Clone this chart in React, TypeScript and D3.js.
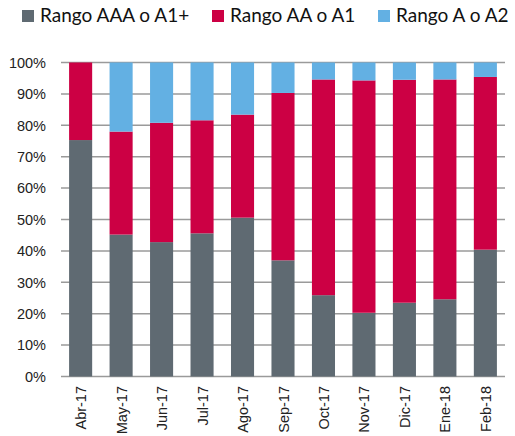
import * as d3 from 'd3';
import React, { useRef, useEffect } from 'react';

const months = ['Abr-17', 'May-17', 'Jun-17', 'Jul-17', 'Ago-17', 'Sep-17', 'Oct-17', 'Nov-17', 'Dic-17', 'Ene-18', 'Feb-18'];
const seriesNames = ['Rango AAA o A1+', 'Rango AA o A1', 'Rango A o A2'];
const aaa = [75.3, 45.2, 42.8, 45.6, 50.6, 37.0, 25.9, 20.3, 23.5, 24.6, 40.4];
const aa = [24.7, 32.8, 38.0, 36.0, 32.8, 53.3, 68.7, 74.0, 71.0, 70.0, 55.0];
const a = [0.0, 22.0, 19.2, 18.4, 16.6, 9.7, 5.4, 5.7, 5.5, 5.4, 4.6];
const yTicks = [0, 10, 20, 30, 40, 50, 60, 70, 80, 90, 100];
const colors = ['#5f6a72', '#cc0044', '#63b0e3'];

const width = 515;
const height = 436;
const axisFont = "'Liberation Sans', Arial, Helvetica, sans-serif";

const App = () => {
  const ref = useRef<SVGSVGElement>(null);

  useEffect(() => {
    const svg = d3.select(ref.current);
    svg.selectAll('*').remove();

    const x = d3.scaleBand().domain(months).range([61, 505]).paddingInner(0.43).paddingOuter(0.2);
    const y = d3.scaleLinear().domain([0, 100]).range([376.5, 62.5]);

    const rows = months.map((m, i) => ({ month: m, s0: aaa[i], s1: aa[i], s2: a[i] }));
    const stack = d3.stack<any>().keys(['s0', 's1', 's2']);
    const layers = stack(rows);

    // grid
    svg.append('g')
      .selectAll('line')
      .data(yTicks)
      .enter()
      .append('line')
      .attr('x1', 61)
      .attr('x2', 505)
      .attr('y1', d => y(d))
      .attr('y2', d => y(d))
      .attr('stroke', '#9a9a9a')
      .attr('stroke-width', 1.5);

    svg.append('g')
      .selectAll('text')
      .data(yTicks)
      .enter()
      .append('text')
      .attr('x', 46)
      .attr('y', d => y(d))
      .attr('dy', '0.36em')
      .attr('text-anchor', 'end')
      .style('font-family', axisFont)
      .style('font-size', '14.5px')
      .style('fill', '#222')
      .text(d => `${d}%`);

    layers.forEach((layer, k) => {
      svg.append('g')
        .selectAll('rect')
        .data(layer)
        .enter()
        .append('rect')
        .attr('x', (d: any) => x(d.data.month)!)
        .attr('width', x.bandwidth())
        .attr('y', d => y(d[1]))
        .attr('height', d => y(d[0]) - y(d[1]))
        .attr('fill', colors[k]);
    });

    // x labels
    svg.append('g')
      .selectAll('text')
      .data(months)
      .enter()
      .append('text')
      .attr('transform', d => `translate(${x(d)! + x.bandwidth() / 2 + 5.5},386) rotate(-90)`)
      .attr('text-anchor', 'end')
      .style('font-family', axisFont)
      .style('font-size', '14.5px')
      .style('fill', '#222')
      .text(d => d);

    // legend
    const legendX = [22, 212, 378];
    const legend = svg.append('g')
      .selectAll('g')
      .data(seriesNames)
      .enter()
      .append('g')
      .attr('transform', (_, i) => `translate(${legendX[i]},0)`);
    legend.append('rect')
      .attr('x', 0)
      .attr('y', 10)
      .attr('width', 12)
      .attr('height', 12)
      .attr('fill', (_, i) => colors[i]);
    legend.append('text')
      .attr('x', 18)
      .attr('y', 22)
      .style('font-family', "Lato, 'Open Sans', sans-serif")
      .style('font-size', '19px')
      .style('fill', '#111')
      .text(d => d);
  }, []);

  return (
    <svg width={width} height={height} ref={ref} style={{ position: 'absolute', left: 0, top: 0 }} />
  );
};

export default App;
